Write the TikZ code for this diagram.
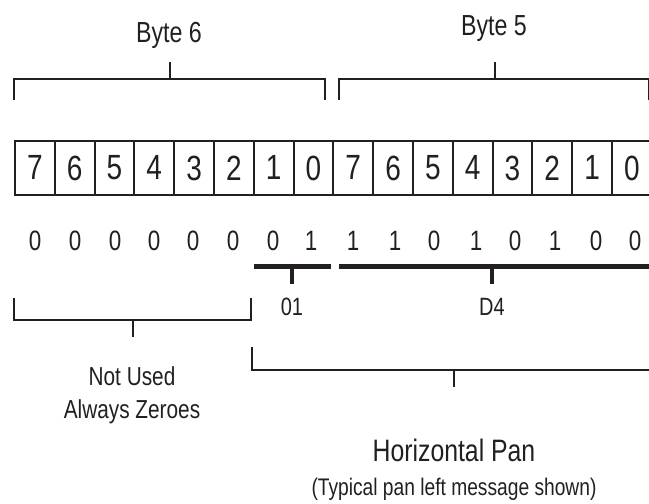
\documentclass[tikz,border=0pt]{standalone}
\usepackage{fontspec}
\newfontfamily\cond[FakeStretch=0.8]{Liberation Sans}
\definecolor{ink}{HTML}{231F20}
\begin{document}
\begin{tikzpicture}[x=1pt,y=-1pt,
  cell/.style={draw=ink,line width=1.9pt,minimum width=39.8pt,minimum height=54pt,inner sep=0pt,anchor=north west,text=ink,font=\cond\fontsize{35}{35}\selectfont},
  val/.style={anchor=base,inner sep=0pt,text=ink,font=\cond\fontsize{28}{28}\selectfont},
  lab/.style={anchor=base,inner sep=0pt,text=ink,font=\cond\fontsize{25}{25}\selectfont},
  big/.style={anchor=base,inner sep=0pt,text=ink,font=\cond\fontsize{29}{29}\selectfont},
  brk/.style={draw=ink,line width=1.9pt},
  bar/.style={draw=ink,line width=5.5pt},
  bartick/.style={draw=ink,line width=4pt}]
\useasboundingbox (0,0) rectangle (649,504);
\clip (0,0) rectangle (649,504);
% byte labels
\node[big] (b6) at (169,42) {Byte 6};
\node[big] (b5) at (494,35) {Byte 5};
% top brackets
\coordinate (t6) at (170,79);
\coordinate (t5) at (495,79);
\draw[brk] (14,100) -- (14,79) -- (325,79) -- (325,100);
\draw[brk] (t6) -- (170,62);
\draw[brk] (339,100) -- (339,79) -- (649,79) -- (649,100);
\draw[brk] (t5) -- (495,62);
% bit cells
\foreach \d [count=\i from 0] in {7,6,5,4,3,2,1,0,7,6,5,4,3,2,1,0}{
  \node[cell] (c\i) at ({14+39.8*\i},140) {\d};
}
% values
\foreach \v/\x [count=\i from 0] in {0/35,0/75,0/115,0/154,0/193,0/233,0/273,1/311,1/353,1/395,0/434,1/476,0/515,1/555,0/596,0/635}{
  \node[val] (v\i) at (\x,250) {\v};
}
% thick bars
\draw[bar] (254,266.7) -- (331,266.7);
\draw[bar] (339,266.7) -- (660,266.7);
\node[lab] (l01) at (292,315) {01};
\node[lab] (lD4) at (492,315) {D4};
\draw[bartick] (292,266.7) -- (292,283.5);
\draw[bartick] (492,266.7) -- (492,283.5);
% not used bracket
\draw[brk] (14,298) -- (14,320) -- (251,320) -- (251,298);
\draw[brk] (133,320) -- (133,337);
\node[lab,font=\cond\fontsize{26}{26}\selectfont] (nu) at (132,385) {Not Used};
\node[lab,font=\cond\fontsize{26}{26}\selectfont] (az) at (132,418) {Always Zeroes};
% horizontal pan bracket
\draw[brk] (252,347) -- (252,370) -- (660,370);
\draw[brk] (454,370) -- (454,387);
\node[lab,font=\cond\fontsize{31}{31}\selectfont] (hp) at (454,461) {Horizontal Pan};
\node[lab,font=\cond\fontsize{24}{24}\selectfont] (tp) at (454,495) {(Typical pan left message shown)};
\end{tikzpicture}
\end{document}
